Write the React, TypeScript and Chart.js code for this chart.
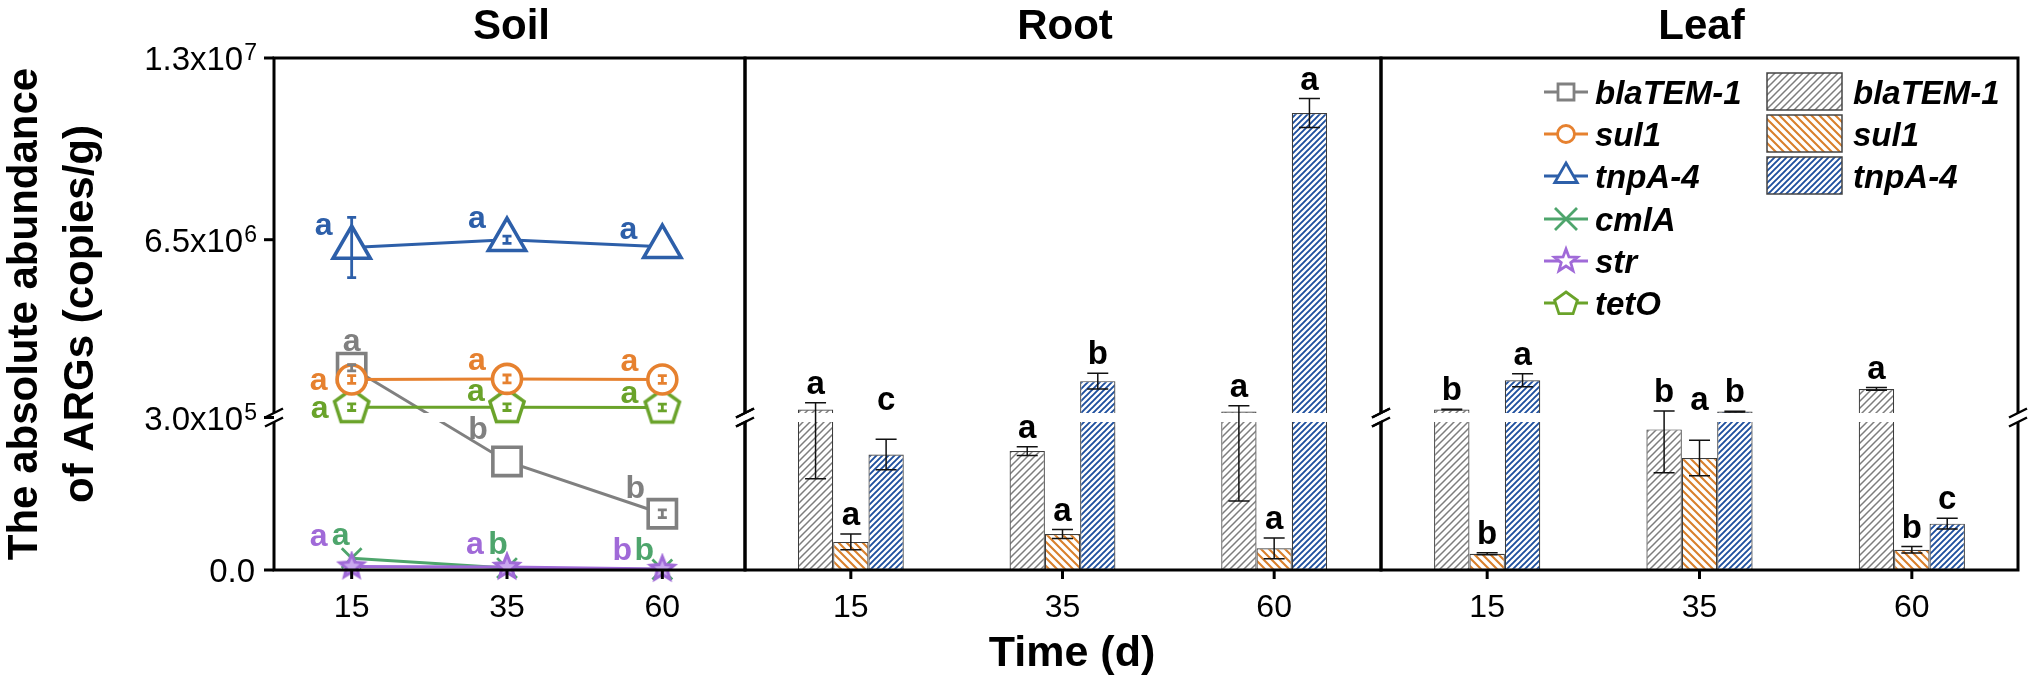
import React, { useEffect, useRef } from 'react';
import { Chart, registerables, LinearScale } from 'chart.js';

Chart.register(...registerables);

// ---------------- data ----------------
const days = ['15', '35', '60'];
const soilGenes = ['blaTEM-1', 'sul1', 'tnpA-4', 'cmlA', 'str', 'tetO'];
const barGenes = ['blaTEM-1', 'sul1', 'tnpA-4'];

const soilBlaTEM = [1.92e6, 2.2e5, 1.14e5];
const soilBlaTEMSd = [1.1e5, 0, 8e3];
const soilBlaTEMLetters = ['a', 'b', 'b'];
const soilSul1 = [1.5e6, 1.52e6, 1.5e6];
const soilSul1Sd = [1.4e5, 1.4e5, 1.4e5];
const soilSul1Letters = ['a', 'a', 'a'];
const soilTnpA = [6.22e6, 6.5e6, 6.25e6];
const soilTnpASd = [1.08e6, 1.3e5, 0];
const soilTnpALetters = ['a', 'a', 'a'];
const soilCmlA = [2.4e4, 4e3, 1e3];
const soilCmlASd = [0, 0, 0];
const soilCmlALetters = ['a', 'b', 'b'];
const soilStr = [7e3, 6e3, 2e3];
const soilStrSd = [0, 0, 0];
const soilStrLetters = ['a', 'a', 'b'];
const soilTetO = [5.1e5, 5.1e5, 4.95e5];
const soilTetOSd = [1.2e5, 1.2e5, 1.2e5];
const soilTetOLetters = ['a', 'a', 'a'];

const rootBlaTEM = [4.25e5, 2.41e5, 3.5e5];
const rootBlaTEMSd = [2.4e5, 9e3, 2.1e5];
const rootBlaTEMLetters = ['a', 'a', 'a'];
const rootSul1 = [5.7e4, 7.3e4, 4.4e4];
const rootSul1Sd = [1.6e4, 9e3, 2.1e4];
const rootSul1Letters = ['a', 'a', 'a'];
const rootTnpA = [2.34e5, 1.44e6, 1.103e7];
const rootTnpASd = [3.1e4, 2.8e5, 5.2e5];
const rootTnpALetters = ['c', 'b', 'a'];

const leafBlaTEM = [4.25e5, 2.85e5, 1.16e6];
const leafBlaTEMSd = [1e4, 8.8e4, 5e4];
const leafBlaTEMLetters = ['b', 'b', 'a'];
const leafSul1 = [3.3e4, 2.27e5, 4.1e4];
const leafSul1Sd = [2e3, 3.6e4, 6.6e3];
const leafSul1Letters = ['b', 'a', 'b'];
const leafTnpA = [1.47e6, 3.5e5, 9.4e4];
const leafTnpASd = [2.3e5, 1e4, 1.1e4];
const leafTnpALetters = ['a', 'b', 'c'];

const yTickValues = [0, 3e5, 6.5e6, 1.3e7];
const yTickMantissas = ['0.0', '3.0', '6.5', '1.3'];
const yTickExponents = ['', '5', '6', '7'];

// ---------------- layout / style ----------------
const W = 2032;
const H = 685;
const FONT = '"Liberation Sans", Arial, Helvetica, sans-serif';
const PLOT_TOP = 58;
const PLOT_BOTTOM = 570;
const BREAK = 3e5;
const Y_MAX = 1.3e7;
const LOW_FRAC = 148 / 512;
const GAP_FRAC = 9 / 512;

const PANELS: any = {
  soil: { frameL: 274, frameR: 745, areaL: 274, areaR: 740, title: 'Soil' },
  root: { frameL: 745, frameR: 1381, areaL: 745, areaR: 1380, title: 'Root' },
  leaf: { frameL: 1381, frameR: 2018, areaL: 1381, areaR: 2018, title: 'Leaf' },
};

const C_GRAY = '#808080';
const C_ORANGE = '#e6812f';
const C_BLUE = '#2d5fa9';
const C_CML = '#4ea56c';
const C_STR = '#a06ad8';
const C_TETO = '#6aa32a';

const SOIL_LETTER_OFFSETS: any = {
  'blaTEM-1': [[0, -17], [-29, -22], [-27, -16]],
  sul1: [[-33, 11], [-30, -9], [-33, -8]],
  'tnpA-4': [[-28, -13], [-30, -12], [-34, -8]],
  cmlA: [[-11, -13], [-9, -14], [-18, -10]],
  str: [[-33, -21], [-32, -13], [-40, -9]],
  tetO: [[-32, 11], [-31, -6], [-33, -5]],
};
const BAR_LETTER_LIFT: any = {
  root: [[0, 0, 0], [0, 0, 0], [20, 0, 0]],
  leaf: [[0, 0, 0], [0, 21, 0], [0, 0, 0]],
};

// ---------------- broken y scale ----------------
class BrokenScale extends LinearScale {
  static id = 'broken';
  static defaults = {};
  getPixelForValue(value: number) {
    const h = this.bottom - this.top;
    const low = h * LOW_FRAC;
    const gap = h * GAP_FRAC;
    if (value <= BREAK) return this.bottom - (value / BREAK) * low;
    return this.bottom - low - gap - ((value - BREAK) / (Y_MAX - BREAK)) * (h - low - gap);
  }
  getValueForPixel(pixel: number) {
    const h = this.bottom - this.top;
    const low = h * LOW_FRAC;
    const gap = h * GAP_FRAC;
    const d = this.bottom - pixel;
    if (d <= low) return (d / low) * BREAK;
    return BREAK + ((d - low - gap) / (h - low - gap)) * (Y_MAX - BREAK);
  }
}
Chart.register(BrokenScale as any);

function breakPx(ys: any) {
  return [ys.getPixelForValue(BREAK * 1.000001), ys.getPixelForValue(BREAK)];
}

// ---------------- helpers ----------------
function makeHatch(ctx: CanvasRenderingContext2D, color: string, size: number, lw: number, dir: number) {
  const t = document.createElement('canvas');
  t.width = size;
  t.height = size;
  const g = t.getContext('2d') as CanvasRenderingContext2D;
  g.fillStyle = '#fff';
  g.fillRect(0, 0, size, size);
  g.strokeStyle = color;
  g.lineWidth = lw;
  g.beginPath();
  for (const k of [-size, 0, size]) {
    if (dir > 0) {
      g.moveTo(k - 1, size + 1);
      g.lineTo(k + size + 1, -1);
    } else {
      g.moveTo(k - 1, -1);
      g.lineTo(k + size + 1, size + 1);
    }
  }
  g.stroke();
  return ctx.createPattern(t, 'repeat');
}

function polyPath(g: CanvasRenderingContext2D, n: number, rOut: number, rIn: number | null, cx: number, cy: number) {
  g.beginPath();
  const count = rIn ? n * 2 : n;
  for (let k = 0; k < count; k++) {
    const r = rIn && k % 2 === 1 ? rIn : rOut;
    const a = -Math.PI / 2 + (k * 2 * Math.PI) / count;
    const px = cx + r * Math.cos(a);
    const py = cy + r * Math.sin(a);
    if (k === 0) g.moveTo(px, py);
    else g.lineTo(px, py);
  }
  g.closePath();
}

function makeShapeImage(color: string, fill: string, n: number, rOut: number, rIn: number | null, lw: number) {
  const s = Math.ceil(2 * rOut + lw + 4);
  const c = document.createElement('canvas');
  c.width = s;
  c.height = s;
  const g = c.getContext('2d') as CanvasRenderingContext2D;
  polyPath(g, n, rOut, rIn, s / 2, s / 2);
  g.fillStyle = fill;
  g.fill();
  g.strokeStyle = color;
  g.lineWidth = lw;
  g.lineJoin = 'miter';
  g.stroke();
  return c;
}

function drawFrame(ctx: CanvasRenderingContext2D, L: number, R: number, yU: number, yL: number) {
  ctx.save();
  ctx.strokeStyle = '#000';
  ctx.lineWidth = 3;
  ctx.beginPath();
  ctx.moveTo(L - 1.5, PLOT_TOP);
  ctx.lineTo(R + 1.5, PLOT_TOP);
  ctx.moveTo(L - 1.5, PLOT_BOTTOM);
  ctx.lineTo(R + 1.5, PLOT_BOTTOM);
  for (const x of [L, R]) {
    ctx.moveTo(x, PLOT_TOP);
    ctx.lineTo(x, yU);
    ctx.moveTo(x, yL);
    ctx.lineTo(x, PLOT_BOTTOM);
  }
  ctx.stroke();
  ctx.lineWidth = 2.5;
  ctx.beginPath();
  for (const x of [L, R]) {
    for (const y of [yU, yL]) {
      ctx.moveTo(x - 9, y + 4.5);
      ctx.lineTo(x + 9, y - 4.5);
    }
  }
  ctx.stroke();
  ctx.restore();
}

function drawXAxis(chart: any, P: any) {
  const ctx = chart.ctx;
  const xs = chart.scales.x;
  const ys = chart.scales.y;
  const [yU, yL] = breakPx(ys);
  drawFrame(ctx, P.frameL, P.frameR, yU, yL);
  ctx.save();
  ctx.strokeStyle = '#000';
  ctx.lineWidth = 3;
  ctx.fillStyle = '#000';
  ctx.font = `32px ${FONT}`;
  ctx.textAlign = 'center';
  ctx.textBaseline = 'alphabetic';
  days.forEach((d, i) => {
    const x = xs.getPixelForValue(i);
    ctx.beginPath();
    ctx.moveTo(x, PLOT_BOTTOM);
    ctx.lineTo(x, PLOT_BOTTOM + 9);
    ctx.stroke();
    ctx.fillText(d, x, 617);
  });
  ctx.font = `bold 42px ${FONT}`;
  ctx.fillText(P.title, (P.frameL + P.frameR) / 2 + 2, 39);
  ctx.restore();
}

function drawYAxis(chart: any) {
  const ctx = chart.ctx;
  const ys = chart.scales.y;
  const [yU, yL] = breakPx(ys);
  const axisX = PANELS.soil.frameL;
  ctx.save();
  ctx.strokeStyle = '#000';
  ctx.fillStyle = '#000';
  ctx.lineWidth = 3;
  ctx.textAlign = 'right';
  ctx.textBaseline = 'alphabetic';
  yTickValues.forEach((v, i) => {
    const y = v === BREAK ? (yU + yL) / 2 : ys.getPixelForValue(v);
    ctx.beginPath();
    ctx.moveTo(axisX - 10, y);
    ctx.lineTo(axisX, y);
    ctx.stroke();
    const exp = yTickExponents[i];
    if (exp) {
      let right = 257;
      ctx.font = `23px ${FONT}`;
      ctx.fillText(exp, right, y + 2);
      right -= ctx.measureText(exp).width + 1;
      ctx.font = `33px ${FONT}`;
      ctx.fillText(`${yTickMantissas[i]}x10`, right, y + 12);
    } else {
      ctx.font = `33px ${FONT}`;
      ctx.fillText(yTickMantissas[i], 255, y + 12);
    }
  });
  ctx.font = `bold 42px ${FONT}`;
  ctx.textAlign = 'center';
  const cy = (PLOT_TOP + PLOT_BOTTOM) / 2;
  const lines = ['The absolute abundance', 'of ARGs (copies/g)'];
  const xs = [37, 93];
  lines.forEach((t, i) => {
    ctx.save();
    ctx.translate(xs[i], cy);
    ctx.rotate(-Math.PI / 2);
    ctx.fillText(t, 0, 0);
    ctx.restore();
  });
  ctx.restore();
}

function drawLegendMarker(ctx: CanvasRenderingContext2D, kind: string, x: number, y: number, color: string) {
  ctx.save();
  ctx.strokeStyle = color;
  ctx.fillStyle = '#fff';
  ctx.lineWidth = 3;
  ctx.beginPath();
  ctx.moveTo(x - 22, y);
  ctx.lineTo(x + 22, y);
  ctx.stroke();
  ctx.lineWidth = 2.8;
  ctx.beginPath();
  if (kind === 'rect') {
    ctx.rect(x - 8, y - 8, 16, 16);
    ctx.fill();
    ctx.stroke();
  } else if (kind === 'circle') {
    ctx.arc(x, y, 8.5, 0, Math.PI * 2);
    ctx.fill();
    ctx.stroke();
  } else if (kind === 'triangle') {
    polyPath(ctx, 3, 13, null, x, y);
    ctx.fill();
    ctx.stroke();
  } else if (kind === 'cross') {
    const a = 11;
    ctx.moveTo(x - a, y - a);
    ctx.lineTo(x + a, y + a);
    ctx.moveTo(x - a, y + a);
    ctx.lineTo(x + a, y - a);
    ctx.stroke();
  } else if (kind === 'star') {
    polyPath(ctx, 5, 12, 5, x, y);
    ctx.fill();
    ctx.stroke();
  } else if (kind === 'pentagon') {
    polyPath(ctx, 5, 12, null, x, y + 1);
    ctx.fill();
    ctx.stroke();
  }
  ctx.restore();
}

function drawLegend(ctx: CanvasRenderingContext2D, patterns: any[]) {
  const kinds = ['rect', 'circle', 'triangle', 'cross', 'star', 'pentagon'];
  const colors = [C_GRAY, C_ORANGE, C_BLUE, C_CML, C_STR, C_TETO];
  const rowY = [92, 134, 176, 219, 261, 303];
  ctx.save();
  soilGenes.forEach((g, i) => {
    drawLegendMarker(ctx, kinds[i], 1566, rowY[i], colors[i]);
    ctx.fillStyle = '#000';
    ctx.font = `italic bold 33px ${FONT}`;
    ctx.textAlign = 'left';
    ctx.textBaseline = 'alphabetic';
    ctx.fillText(g, 1595, rowY[i] + 12);
  });
  barGenes.forEach((g, i) => {
    const top = 73 + i * 42;
    ctx.fillStyle = patterns[i];
    ctx.fillRect(1767, top, 75, 37);
    ctx.strokeStyle = '#444';
    ctx.lineWidth = 1.5;
    ctx.strokeRect(1767, top, 75, 37);
    ctx.fillStyle = '#000';
    ctx.font = `italic bold 33px ${FONT}`;
    ctx.fillText(g, 1853, top + 18.5 + 12);
  });
  ctx.restore();
}

// ---------------- charts ----------------
function makeSoilChart(canvas: HTMLCanvasElement) {
  const P = PANELS.soil;
  const pentagon = makeShapeImage(C_TETO, '#fff', 5, 18, null, 3.5);
  const star = makeShapeImage(C_STR, '#c9a8ef', 5, 12.5, 5.5, 3);
  const series = [
    { label: soilGenes[0], data: soilBlaTEM, sd: soilBlaTEMSd, letters: soilBlaTEMLetters, color: C_GRAY, pointStyle: 'rect', radius: 20, order: 6 },
    { label: soilGenes[1], data: soilSul1, sd: soilSul1Sd, letters: soilSul1Letters, color: C_ORANGE, pointStyle: 'circle', radius: 14.5, order: 4 },
    { label: soilGenes[2], data: soilTnpA, sd: soilTnpASd, letters: soilTnpALetters, color: C_BLUE, pointStyle: 'triangle', radius: 21.5, order: 3 },
    { label: soilGenes[3], data: soilCmlA, sd: soilCmlASd, letters: soilCmlALetters, color: C_CML, pointStyle: 'crossRot', radius: 14, order: 2 },
    { label: soilGenes[4], data: soilStr, sd: soilStrSd, letters: soilStrLetters, color: C_STR, pointStyle: star, radius: 12, order: 1 },
    { label: soilGenes[5], data: soilTetO, sd: soilTetOSd, letters: soilTetOLetters, color: C_TETO, pointStyle: pentagon, radius: 17, order: 5 },
  ];
  const plugin = {
    id: 'soilDecor',
    afterDatasetDraw(chart: any, args: any) {
      if (args.index !== 0) return;
      const [yU, yL] = breakPx(chart.scales.y);
      const ctx = chart.ctx;
      ctx.save();
      ctx.fillStyle = '#fff';
      ctx.fillRect(P.frameL + 2, yU, P.frameR - P.frameL - 4, yL - yU);
      ctx.restore();
    },
    afterDatasetsDraw(chart: any) {
      const ctx = chart.ctx;
      const ys = chart.scales.y;
      ctx.save();
      series.forEach((s, i) => {
        const meta = chart.getDatasetMeta(i);
        ctx.strokeStyle = s.color;
        ctx.lineWidth = 2.8;
        s.data.forEach((v, j) => {
          const sd = s.sd[j];
          if (!sd) return;
          const el = meta.data[j];
          const y1 = ys.getPixelForValue(v + sd);
          const y2 = ys.getPixelForValue(Math.max(0, v - sd));
          ctx.beginPath();
          ctx.moveTo(el.x, y1);
          ctx.lineTo(el.x, y2);
          ctx.moveTo(el.x - 4.5, y1);
          ctx.lineTo(el.x + 4.5, y1);
          ctx.moveTo(el.x - 4.5, y2);
          ctx.lineTo(el.x + 4.5, y2);
          ctx.stroke();
        });
      });
      ctx.font = `bold 32px ${FONT}`;
      ctx.textAlign = 'center';
      ctx.textBaseline = 'alphabetic';
      series.forEach((s, i) => {
        const meta = chart.getDatasetMeta(i);
        ctx.fillStyle = s.color;
        s.letters.forEach((t, j) => {
          const el = meta.data[j];
          const off = SOIL_LETTER_OFFSETS[s.label][j];
          ctx.fillText(t, el.x + off[0], el.y + off[1]);
        });
      });
      ctx.restore();
    },
    afterDraw(chart: any) {
      drawXAxis(chart, P);
      drawYAxis(chart);
    },
  };
  return new Chart(canvas, {
    type: 'line',
    data: {
      labels: days,
      datasets: series.map((s) => ({
        label: s.label,
        data: s.data,
        borderColor: s.color,
        backgroundColor: '#fff',
        borderWidth: 3,
        pointStyle: s.pointStyle as any,
        pointRadius: s.radius,
        pointBorderWidth: s.pointStyle === 'crossRot' ? 2.8 : 3.6,
        pointBorderColor: s.color,
        pointBackgroundColor: '#fff',
        tension: 0,
        fill: false,
        clip: false as any,
        order: s.order,
      })),
    },
    options: {
      animation: false,
      responsive: false,
      events: [],
      layout: { padding: { left: P.areaL, right: W - P.areaR, top: PLOT_TOP, bottom: H - PLOT_BOTTOM } },
      plugins: { legend: { display: false }, tooltip: { enabled: false } },
      scales: {
        x: { type: 'category', display: false, offset: true },
        y: { type: 'broken' as any, display: false, min: 0, max: Y_MAX },
      },
    } as any,
    plugins: [plugin],
  });
}

function makeBarChart(canvas: HTMLCanvasElement, panel: string) {
  const P = PANELS[panel];
  const ctx0 = canvas.getContext('2d') as CanvasRenderingContext2D;
  const patterns = [
    makeHatch(ctx0, '#7d7d7d', 7, 1.5, 1),
    makeHatch(ctx0, '#d9802c', 8, 2.1, -1),
    makeHatch(ctx0, '#1e4f9e', 6, 1.9, 1),
  ];
  const series =
    panel === 'root'
      ? [
          { data: rootBlaTEM, sd: rootBlaTEMSd, letters: rootBlaTEMLetters },
          { data: rootSul1, sd: rootSul1Sd, letters: rootSul1Letters },
          { data: rootTnpA, sd: rootTnpASd, letters: rootTnpALetters },
        ]
      : [
          { data: leafBlaTEM, sd: leafBlaTEMSd, letters: leafBlaTEMLetters },
          { data: leafSul1, sd: leafSul1Sd, letters: leafSul1Letters },
          { data: leafTnpA, sd: leafTnpASd, letters: leafTnpALetters },
        ];
  const plugin = {
    id: 'barDecor',
    afterDatasetsDraw(chart: any) {
      const ctx = chart.ctx;
      const ys = chart.scales.y;
      const [yU, yL] = breakPx(ys);
      ctx.save();
      ctx.fillStyle = '#fff';
      ctx.fillRect(P.frameL + 2, yU, P.frameR - P.frameL - 4, yL - yU);
      ctx.strokeStyle = '#111';
      ctx.lineWidth = 1.5;
      series.forEach((s, i) => {
        const meta = chart.getDatasetMeta(i);
        s.data.forEach((v, j) => {
          const el = meta.data[j];
          const sd = s.sd[j];
          const y1 = ys.getPixelForValue(v + sd);
          const y2 = ys.getPixelForValue(Math.max(0, v - sd));
          ctx.beginPath();
          ctx.moveTo(el.x, y1);
          ctx.lineTo(el.x, y2);
          ctx.moveTo(el.x - 10.5, y1);
          ctx.lineTo(el.x + 10.5, y1);
          ctx.moveTo(el.x - 10.5, y2);
          ctx.lineTo(el.x + 10.5, y2);
          ctx.stroke();
        });
      });
      ctx.fillStyle = '#000';
      ctx.font = `bold 33px ${FONT}`;
      ctx.textAlign = 'center';
      ctx.textBaseline = 'alphabetic';
      series.forEach((s, i) => {
        const meta = chart.getDatasetMeta(i);
        s.letters.forEach((t, j) => {
          const el = meta.data[j];
          const top = Math.min(ys.getPixelForValue(s.data[j] + s.sd[j]), el.y);
          ctx.fillText(t, el.x, top - 9 - BAR_LETTER_LIFT[panel][i][j]);
        });
      });
      ctx.restore();
    },
    afterDraw(chart: any) {
      drawXAxis(chart, P);
      const ctx = chart.ctx;
      if (panel === 'root') {
        ctx.save();
        ctx.fillStyle = '#000';
        ctx.font = `bold 43px ${FONT}`;
        ctx.textAlign = 'center';
        ctx.fillText('Time (d)', 1072, 666);
        ctx.restore();
      } else {
        drawLegend(ctx, patterns);
      }
    },
  };
  return new Chart(canvas, {
    type: 'bar',
    data: {
      labels: days,
      datasets: series.map((s, i) => ({
        label: barGenes[i],
        data: s.data,
        backgroundColor: patterns[i] as any,
        borderColor: '#3c3c3c',
        borderWidth: 1.2,
        borderSkipped: false as any,
        categoryPercentage: 0.5,
        barPercentage: 1.0,
      })),
    },
    options: {
      animation: false,
      responsive: false,
      events: [],
      layout: { padding: { left: P.areaL, right: W - P.areaR, top: PLOT_TOP, bottom: H - PLOT_BOTTOM } },
      plugins: { legend: { display: false }, tooltip: { enabled: false } },
      scales: {
        x: { type: 'category', display: false, offset: true },
        y: { type: 'broken' as any, display: false, min: 0, max: Y_MAX },
      },
    } as any,
    plugins: [plugin],
  });
}

export default function App() {
  const soilRef = useRef<HTMLCanvasElement>(null);
  const rootRef = useRef<HTMLCanvasElement>(null);
  const leafRef = useRef<HTMLCanvasElement>(null);
  useEffect(() => {
    const charts = [
      makeSoilChart(soilRef.current as HTMLCanvasElement),
      makeBarChart(rootRef.current as HTMLCanvasElement, 'root'),
      makeBarChart(leafRef.current as HTMLCanvasElement, 'leaf'),
    ];
    return () => charts.forEach((c) => c.destroy());
  }, []);
  const cs: any = { position: 'absolute', left: 0, top: 0, width: W, height: H };
  return (
    <div style={{ position: 'fixed', left: 0, top: 0, width: W, height: H, background: '#fff', overflow: 'hidden' }}>
      <canvas ref={soilRef} width={W} height={H} style={cs} />
      <canvas ref={rootRef} width={W} height={H} style={cs} />
      <canvas ref={leafRef} width={W} height={H} style={cs} />
    </div>
  );
}
